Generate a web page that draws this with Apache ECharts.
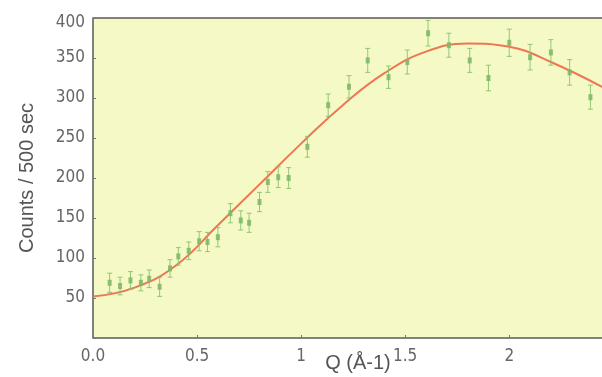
<!DOCTYPE html>
<html>
<head>
<meta charset="utf-8">
<script src="https://cdn.jsdelivr.net/npm/echarts@6/dist/echarts.min.js"></script>
<style>
  html, body { margin: 0; padding: 0; background: #ffffff; }
  #chart { width: 602px; height: 377px; }
</style>
</head>
<body>
<div id="chart"></div>
<script>
// Measured scattering counts versus momentum transfer Q
const qValues = [0.08, 0.13, 0.18, 0.23, 0.27, 0.32, 0.37, 0.41, 0.46, 0.51, 0.55, 0.60,
                 0.66, 0.71, 0.75, 0.80, 0.84, 0.89, 0.94, 1.03, 1.13, 1.23, 1.32, 1.42,
                 1.51, 1.61, 1.71, 1.81, 1.90, 2.00, 2.10, 2.20, 2.29, 2.39];
const counts  = [69, 65, 72, 69, 74, 64, 87, 102, 109, 121, 120, 126,
                 156, 147, 144, 170, 195, 201, 200, 239, 291, 314, 347, 326,
                 345, 381, 366, 347, 325, 369, 351, 357, 332, 301];
const countErrors = [12, 11, 11, 10, 11, 12, 11, 11, 11, 12, 12, 12,
                     12, 12, 12, 12, 13, 13, 13, 13, 14, 14, 15, 14,
                     15, 16, 15, 15, 16, 17, 16, 16, 16, 15];

// Fitted model curve
const fitQ      = [0.0, 0.2, 0.4, 0.6, 0.8, 1.0, 1.2, 1.4, 1.6, 1.8, 2.0, 2.2, 2.46];
const fitCounts = [52, 63, 91, 141, 192, 243, 291, 331, 358, 368, 364, 345, 312];

// Axis tick labels
const xTickLabels = { '0': '0.0', '0.5': '0.5', '1': '1', '1.5': '1.5', '2': '2' };
const yTicks = [50, 100, 150, 200, 250, 300, 350, 400];

const points = qValues.map((q, i) => [q, counts[i]]);
const bars = qValues.map((q, i) => [q, counts[i] - countErrors[i], counts[i] + countErrors[i]]);
const fitLine = fitQ.map((q, i) => [q, fitCounts[i]]);

const labelFont = '"Liberation Sans Narrow", "DejaVu Sans Condensed", sans-serif';
const nameFont = '"Liberation Sans", "DejaVu Sans", sans-serif';

const chart = echarts.init(document.getElementById('chart'), null, { renderer: 'canvas' });
chart.setOption({
  animation: false,
  backgroundColor: '#ffffff',
  grid: {
    left: 93, right: -3, top: 18, bottom: 39,
    outerBoundsMode: 'none',
    containLabel: false,
    show: true,
    backgroundColor: '#f4f9c6',
    borderColor: '#5a5a5a',
    borderWidth: 1.5
  },
  xAxis: {
    type: 'value',
    min: 0, max: 2.46, interval: 0.5,
    name: 'Q (Å-1)',
    nameLocation: 'middle',
    nameGap: 15,
    nameMoveOverlap: false,
    nameTextStyle: { fontFamily: nameFont, fontSize: 20, color: '#555', padding: [0, 0, 0, 18] },
    axisLine: { show: false },
    axisTick: { show: true, inside: true, length: 3, lineStyle: { color: '#777' } },
    axisLabel: {
      margin: 10,
      fontFamily: labelFont, fontSize: 17, color: '#666',
      formatter: v => xTickLabels[String(v)] ?? ''
    },
    splitLine: { show: false }
  },
  yAxis: {
    type: 'value',
    min: 0, max: 400, interval: 50,
    name: 'Counts / 500 sec',
    nameLocation: 'middle',
    nameGap: 56,
    nameMoveOverlap: false,
    nameTextStyle: { fontFamily: nameFont, fontSize: 20, color: '#555' },
    axisLine: { show: false },
    axisTick: { show: true, inside: true, length: 3, lineStyle: { color: '#777' } },
    axisLabel: {
      margin: 8,
      fontFamily: labelFont, fontSize: 17, color: '#666',
      formatter: v => (v === 400 ? '{top|400}' : (yTicks.includes(v) ? String(v) : '')),
      rich: { top: { fontFamily: labelFont, fontSize: 17, color: '#666', padding: [9, 0, 0, 0] } }
    },
    splitLine: { show: false }
  },
  series: [
    {
      type: 'line',
      data: fitLine,
      smooth: 0.45,
      symbol: 'none',
      lineStyle: { color: '#ef7653', width: 2 },
      z: 3
    },
    {
      type: 'custom',
      data: bars,
      renderItem: (params, api) => {
        const q = api.value(0);
        const lo = api.coord([q, api.value(1)]);
        const hi = api.coord([q, api.value(2)]);
        const cap = 2.5;
        const style = { stroke: '#86bd6c', lineWidth: 1, opacity: 0.85 };
        return {
          type: 'group',
          children: [
            { type: 'line', shape: { x1: hi[0], y1: hi[1], x2: lo[0], y2: lo[1] }, style },
            { type: 'line', shape: { x1: hi[0] - cap, y1: hi[1], x2: hi[0] + cap, y2: hi[1] }, style },
            { type: 'line', shape: { x1: lo[0] - cap, y1: lo[1], x2: lo[0] + cap, y2: lo[1] }, style }
          ]
        };
      },
      z: 4
    },
    {
      type: 'scatter',
      data: points,
      symbol: 'rect',
      symbolSize: [4, 6],
      itemStyle: { color: '#7cb664', opacity: 0.85 },
      z: 5
    }
  ]
});
</script>
</body>
</html>
